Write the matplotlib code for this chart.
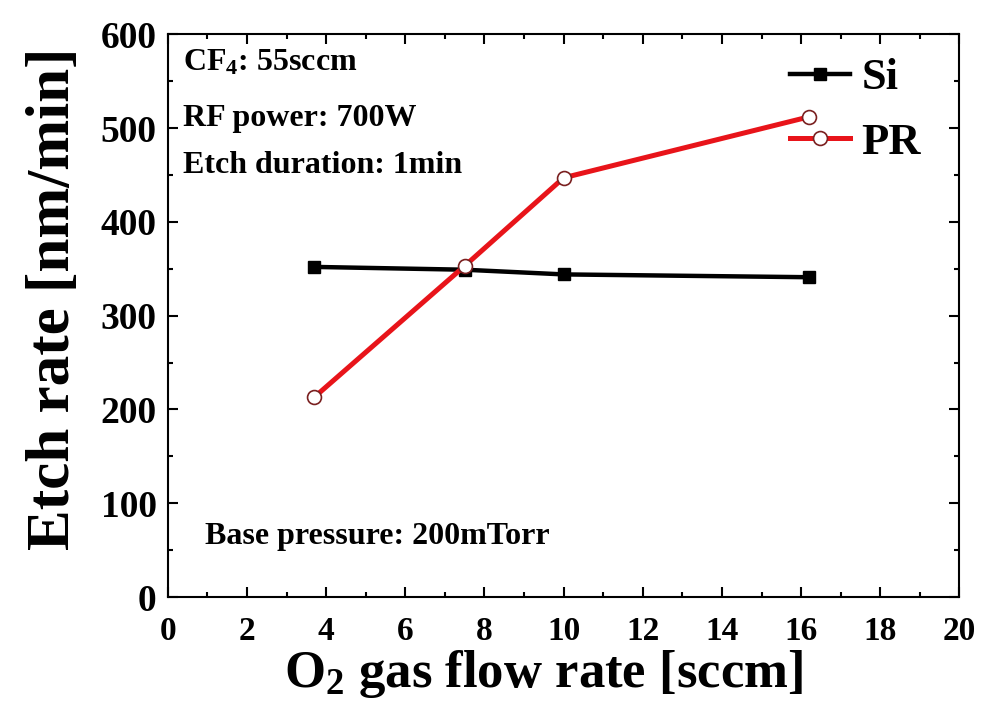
import matplotlib
matplotlib.use("Agg")
import matplotlib.pyplot as plt
from matplotlib.ticker import MultipleLocator

plt.rcParams['font.family'] = ['Liberation Serif', 'DejaVu Serif']
plt.rcParams['font.weight'] = 'bold'
plt.rcParams['mathtext.default'] = 'regular'

# O2 flow rate [sccm] and etch rates [nm/min]
o2_flow = [3.7, 7.5, 10.0, 16.2]
si_rate = [352, 349, 344, 341]
pr_rate = [213, 353, 447, 512]

fig = plt.figure(figsize=(9.81, 7.15), dpi=100)
ax = fig.add_axes([0.171, 0.165, 0.807, 0.787])

ax.plot(o2_flow, si_rate, color='black', lw=3.2, marker='s', ms=9,
        label='Si', zorder=3)
ax.plot(o2_flow, pr_rate, color='#e8141a', lw=3.6, marker='o', ms=10,
        mfc='white', mec='#7a2020', mew=1.2, label='PR', zorder=4)

ax.set_xlim(0, 20)
ax.set_ylim(0, 600)
ax.xaxis.set_major_locator(MultipleLocator(2))
ax.xaxis.set_minor_locator(MultipleLocator(1))
ax.yaxis.set_major_locator(MultipleLocator(100))
ax.yaxis.set_minor_locator(MultipleLocator(50))
ax.tick_params(which='both', direction='in', top=True, right=True, width=1.5)
ax.tick_params(which='major', length=7)
ax.tick_params(which='minor', length=3.5)
ax.tick_params(axis='x', labelsize=24, pad=14)
ax.tick_params(axis='y', labelsize=27, pad=8)
for s in ax.spines.values():
    s.set_linewidth(1.5)

ax.set_xlabel('O$_2$ gas flow rate [sccm]', fontsize=38, fontweight='bold')
ax.set_ylabel('Etch rate [nm/min]', fontsize=44, fontweight='bold')
ax.xaxis.set_label_coords(0.475, -0.09)
ax.yaxis.set_label_coords(-0.108, 0.53)

ax.text(0.019, 0.95, 'CF$_4$: 55sccm', transform=ax.transAxes,
        fontsize=23, fontweight='bold', va='center')
ax.text(0.019, 0.851, 'RF power: 700W', transform=ax.transAxes,
        fontsize=23, fontweight='bold', va='center')
ax.text(0.019, 0.767, 'Etch duration: 1min', transform=ax.transAxes,
        fontsize=23, fontweight='bold', va='center')
ax.text(0.047, 0.107, 'Base pressure: 200mTorr', transform=ax.transAxes,
        fontsize=23, fontweight='bold', va='center')

ax.legend(loc='upper right', frameon=False, fontsize=32, handlelength=1.35,
          handletextpad=0.25, labelspacing=0.55, borderaxespad=0.2,
          bbox_to_anchor=(0.985, 1.005))

fig.savefig('out.png', dpi=100)
